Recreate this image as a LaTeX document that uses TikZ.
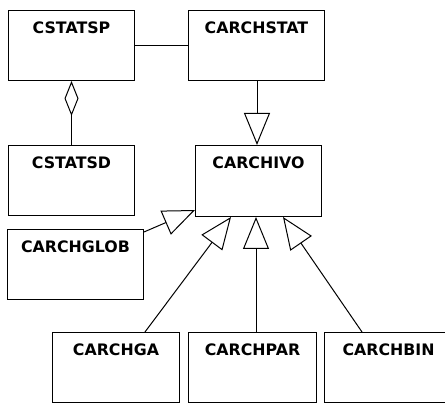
\documentclass[tikz,border=0pt]{standalone}
\usepackage{fontspec}
\setmainfont{DejaVu Sans}
\usetikzlibrary{arrows.meta,calc}
\begin{document}
\begin{tikzpicture}[x=1pt,y=-1pt,line width=1pt,
  cls/.style={draw,rectangle,anchor=north west,inner xsep=0pt,inner ysep=0pt,
    minimum height=70pt,text height=23pt,text depth=47pt,
    font=\fontsize{15.8}{18}\selectfont\bfseries},
  inh/.style={-{Triangle[open,length=32pt,width=26pt]}},
  agg/.style={{Diamond[open,length=35pt,width=14pt]}-}]
\useasboundingbox (0,0) rectangle (445,403);
\node[cls,minimum width=126pt] (sp) at (8,10) {CSTATSP};
\node[cls,minimum width=136pt] (stat) at (188,10) {CARCHSTAT};
\node[cls,minimum width=126pt] (sd) at (8,145) {CSTATSD};
\node[cls,minimum width=126pt,minimum height=71pt] (arch) at (195,145) {CARCHIVO};
\node[cls,minimum width=136pt] (glob) at (7,229) {CARCHGLOB};
\node[cls,minimum width=127pt] (ga) at (52,332) {CARCHGA};
\node[cls,minimum width=128pt] (par) at (188,332) {CARCHPAR};
\node[cls,minimum width=128pt] (bin) at (324,332) {CARCHBIN};
\coordinate (s1) at ($(stat.south west)+(69,0)$);
\coordinate (t1) at ($(arch.north west)+(62,0)$);
\coordinate (s2) at ($(glob.north east)+(0,3)$);
\coordinate (t2) at ($(arch.south west)+(0,-7)$);
\coordinate (s3) at ($(ga.north west)+(93,0)$);
\coordinate (t3) at ($(arch.south west)+(36,0)$);
\coordinate (s4) at ($(par.north west)+(68,0)$);
\coordinate (t4) at ($(arch.south west)+(61,0)$);
\coordinate (s5) at ($(bin.north west)+(38,0)$);
\coordinate (t5) at ($(arch.south west)+(88,0)$);
\draw (sp.east) -- (stat.west);
\draw[agg] (sp.south) -- (sd.north);
\draw[inh] (s1) -- (t1);
\draw[inh] (s2) -- (t2);
\draw[inh] (s3) -- (t3);
\draw[inh] (s4) -- (t4);
\draw[inh] (s5) -- (t5);
\end{tikzpicture}
\end{document}
